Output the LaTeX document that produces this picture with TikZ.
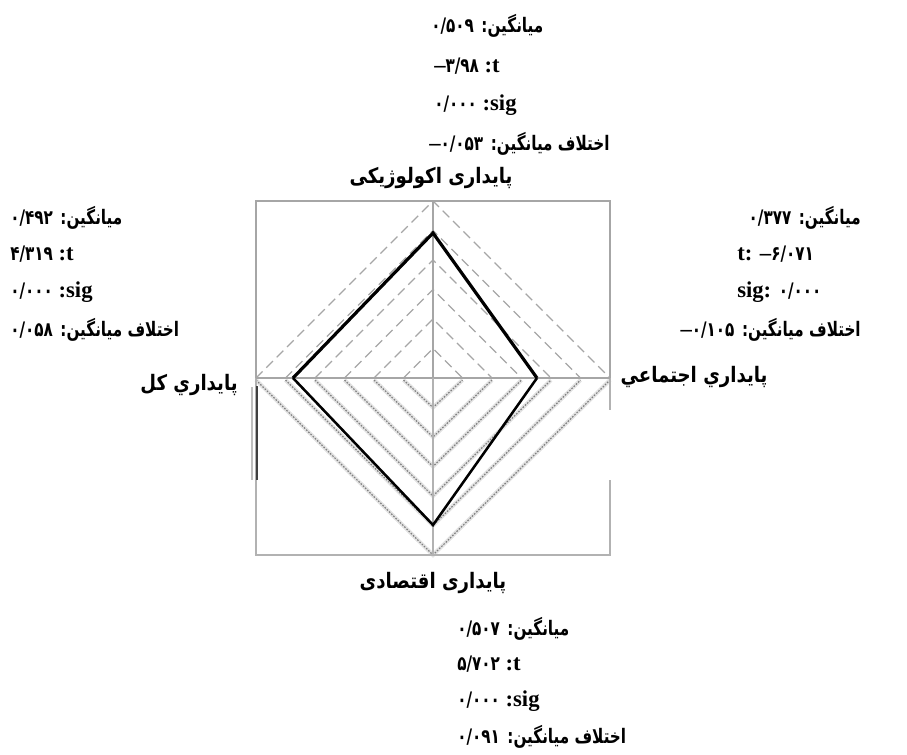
\documentclass[tikz,border=0pt]{standalone}
\usepackage{fontspec}
\TeXXeTstate=1
\setmainfont{Liberation Serif}
\newfontfamily\farsifont[Script=Arabic,FakeStretch=0.76]{DejaVu Sans}
\newfontfamily\farsilblfont[Script=Arabic,FakeStretch=0.85]{DejaVu Sans}
\newfontfamily\farsinumfont[FakeStretch=0.76]{DejaVu Sans}
\newcommand{\numfa}[1]{{\farsinumfont\bfseries\fontsize{15}{18}\selectfont #1}}
\newcommand{\wordfa}[1]{{\farsifont\bfseries\fontsize{15}{18}\selectfont #1}}
\tikzset{
  axislbl/.style={inner sep=0pt, font=\farsilblfont\bfseries\fontsize{16}{19}\selectfont},
  blk/.style={inner sep=0pt, text height=12pt, text depth=4pt, font=\bfseries\fontsize{17}{20}\selectfont},
  ringu/.style={gray!70, line width=0.9pt, dash pattern=on 7pt off 4pt},
  ringlback/.style={gray!22, line width=3pt},
  ringl/.style={black!50, line width=0.9pt, dash pattern=on 1.2pt off 1.1pt},
  frameu/.style={gray!70, line width=1.2pt},
  framel/.style={gray!60, line width=1.5pt},
  datau/.style={black, line width=2.4pt},
  datal/.style={black, line width=1.9pt},
}
\begin{document}
\begin{tikzpicture}[x=0.75pt,y=-0.75pt]
\useasboundingbox (0,0) rectangle (907,754);
% chart geometry
\coordinate (C) at (433,378);
\coordinate (T) at (433,201);
\coordinate (B) at (433,555);
\coordinate (L) at (256,378);
\coordinate (R) at (610,378);
% rings
\foreach \k in {1,...,6}{
  \pgfmathsetmacro{\r}{177*\k/6}
  \draw[ringlback] (433-\r,380) -- (433,378+\r) -- (433+\r,380);
  \draw[ringl] (433-\r,380) -- (433,378+\r) -- (433+\r,380);
  \draw[ringu] (433-\r,378) -- (433,378-\r) -- (433+\r,378);
}
% frame
\draw[frameu] (256,378) -- (256,201) -- (610,201) -- (610,378);
\draw[framel] (256,378) -- (256,555) -- (610,555) -- (610,480);
\draw[framel] (610,378) -- (610,410);
\draw[black!75, line width=2pt] (257,386) -- (257,480);
\draw[gray!50, line width=0.8pt] (252,387) -- (252,480);
% axes
\draw[frameu] (L) -- (R);
\draw[frameu] (T) -- (C);
\draw[framel] (C) -- (B);
% data polygon
\coordinate (d1) at (433,233);
\coordinate (d2) at (537,378);
\coordinate (d3) at (433,525);
\coordinate (d4) at (293,378);
\draw[datau, line join=miter] (d4) -- (d1) -- (d2);
\draw[datal, line join=miter] (d2) -- (d3) -- (d4);
% axis labels
\node[axislbl] (lt) at (431,178) {\beginR پایداری اکولوژیکی\endR};
\node[axislbl] (lr) at (694,377) {\beginR پايداري اجتماعي\endR};
\node[axislbl] (ll) at (189,385) {\beginR پايداري کل\endR};
\node[axislbl] (lb) at (433,583) {\beginR پایداری اقتصادی\endR};
% top block
\node[blk, anchor=west] (a1) at (431,27) {\beginR\wordfa{میانگین:} \beginL\numfa{۰/۵۰۹}\endL\endR};
\node[blk, anchor=west] (a2) at (434,67) {–\numfa{۳/۹۸} :t};
\node[blk, anchor=west] (a3) at (434,105) {\numfa{۰/۰۰۰} :sig};
\node[blk, anchor=west] (a4) at (429,145) {\beginR\wordfa{اختلاف میانگین:} \beginL–\numfa{۰/۰۵۳}\endL\endR};
% left block
\node[blk, anchor=west] (b1) at (10,219) {\beginR\wordfa{میانگین:} \beginL\numfa{۰/۴۹۲}\endL\endR};
\node[blk, anchor=west] (b2) at (10,255) {\numfa{۴/۳۱۹} :t};
\node[blk, anchor=west] (b3) at (10,292) {\numfa{۰/۰۰۰} :sig};
\node[blk, anchor=west] (b4) at (10,331) {\beginR\wordfa{اختلاف میانگین:} \beginL\numfa{۰/۰۵۸}\endL\endR};
% right block
\node[blk, anchor=east] (c1) at (861,219) {\beginR\wordfa{میانگین:} \beginL\numfa{۰/۳۷۷}\endL\endR};
\node[blk, anchor=west] (c2) at (737,255) {t: –\numfa{۶/۰۷۱}};
\node[blk, anchor=west] (c3) at (737,292) {sig: \numfa{۰/۰۰۰}};
\node[blk, anchor=east] (c4) at (861,331) {\beginR\wordfa{اختلاف میانگین:} \beginL–\numfa{۰/۱۰۵}\endL\endR};
% bottom block
\node[blk, anchor=west] (e1) at (457,630) {\beginR\wordfa{میانگین:} \beginL\numfa{۰/۵۰۷}\endL\endR};
\node[blk, anchor=west] (e2) at (457,665) {\numfa{۵/۷۰۲} :t};
\node[blk, anchor=west] (e3) at (457,701) {\numfa{۰/۰۰۰} :sig};
\node[blk, anchor=west] (e4) at (457,738) {\beginR\wordfa{اختلاف میانگین:} \beginL\numfa{۰/۰۹۱}\endL\endR};
\end{tikzpicture}
\end{document}
